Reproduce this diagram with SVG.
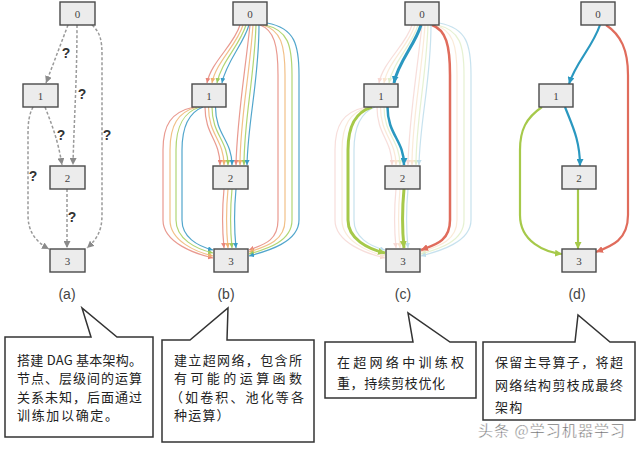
<svg xmlns="http://www.w3.org/2000/svg" width="640" height="450" viewBox="0 0 640 450">
<style>
.node rect{fill:#ececec;stroke:#4a4a4a;stroke-width:1.4}
.node text{font-family:"Liberation Serif",serif;font-size:11px;fill:#444;text-anchor:middle}
.dash{fill:none;stroke:#9a9a9a;stroke-width:1.5;stroke-dasharray:3 2;marker-end:url(#mA)}
.q{font-family:"Liberation Sans",sans-serif;font-size:14px;font-weight:bold;fill:#333;text-anchor:middle}
.e{fill:none;stroke-width:1.2}
.r{stroke:#e99a90;marker-end:url(#mR)}
.o{stroke:#f2c088;marker-end:url(#mO)}
.g{stroke:#b2d674;marker-end:url(#mG)}
.b{stroke:#52a6cc;marker-end:url(#mB)}
.cap{font-family:"Liberation Sans",sans-serif;font-size:14px;fill:#444;text-anchor:middle}
.call{fill:#fff;stroke:#333;stroke-width:1.5;stroke-linejoin:miter}
.t{font-family:"Noto Sans CJK SC",sans-serif;font-size:13px;fill:#222}
</style>
<defs>
<marker id="mA" viewBox="0 0 6 6" refX="6" refY="3" markerWidth="7" markerHeight="7" markerUnits="userSpaceOnUse" orient="auto"><path d="M0,0L6,3L0,6z" fill="#8a8a8a"/></marker>
<marker id="mR" viewBox="0 0 6 6" refX="6" refY="3" markerWidth="5" markerHeight="5" markerUnits="userSpaceOnUse" orient="auto"><path d="M0,0L6,3L0,6z" fill="#e8877a"/></marker>
<marker id="mO" viewBox="0 0 6 6" refX="6" refY="3" markerWidth="5" markerHeight="5" markerUnits="userSpaceOnUse" orient="auto"><path d="M0,0L6,3L0,6z" fill="#f0b070"/></marker>
<marker id="mG" viewBox="0 0 6 6" refX="6" refY="3" markerWidth="5" markerHeight="5" markerUnits="userSpaceOnUse" orient="auto"><path d="M0,0L6,3L0,6z" fill="#a0cc60"/></marker>
<marker id="mB" viewBox="0 0 6 6" refX="6" refY="3" markerWidth="5" markerHeight="5" markerUnits="userSpaceOnUse" orient="auto"><path d="M0,0L6,3L0,6z" fill="#3a9cc6"/></marker>
<marker id="mRb" viewBox="0 0 6 6" refX="6" refY="3" markerWidth="7" markerHeight="7" markerUnits="userSpaceOnUse" orient="auto"><path d="M0,0L6,3L0,6z" fill="#e06c5c"/></marker>
<marker id="mGb" viewBox="0 0 6 6" refX="6" refY="3" markerWidth="7" markerHeight="7" markerUnits="userSpaceOnUse" orient="auto"><path d="M0,0L6,3L0,6z" fill="#a6c94a"/></marker>
<marker id="mBb" viewBox="0 0 6 6" refX="6" refY="3" markerWidth="7" markerHeight="7" markerUnits="userSpaceOnUse" orient="auto"><path d="M0,0L6,3L0,6z" fill="#2a98c0"/></marker>
<g id="bEdges">
<path class="e r" d="M240,25 C234,45 211,62 207,83"/>
<path class="e o" d="M243,25 C237,45 216,62 212,83"/>
<path class="e g" d="M246,25 C240,45 221,62 217,83"/>
<path class="e b" d="M249,25 C243,45 226,62 222,83"/>
<path class="e r" d="M250,25 C244,80 237,120 236,165"/>
<path class="e o" d="M253,25 C249,80 240,120 240,165"/>
<path class="e g" d="M256,25 C254,80 244,120 244,165"/>
<path class="e b" d="M259,25 C259,80 248,120 247,165"/>
<path class="e r" d="M260,25 C274,30 278,45 278,75 L278,220 C278,242 262,245 249,250"/>
<path class="e o" d="M262.5,25 C281,30 285,45 285,75 L285,220 C285,242 264,247 249,252"/>
<path class="e g" d="M265,25 C288,30 292,45 292,75 L292,220 C292,242 266,249 249,254"/>
<path class="e b" d="M267,23 C295,28 299,45 299,75 L299,220 C299,242 268,251 249,256"/>
<path class="e r" d="M194,107 C171,112 163,125 163,150 L163,220 C163,243 196,254 213,258"/>
<path class="e o" d="M197,107 C178,112 170,125 170,150 L170,220 C170,241 196,252 213,256"/>
<path class="e g" d="M200,107 C184,112 176,125 176,150 L176,220 C176,239 196,249 213,253"/>
<path class="e b" d="M203,107 C190,112 182,125 182,150 L182,220 C182,237 197,246 213,250"/>
<path class="e r" d="M205,107 C205,135 220,140 220,165"/>
<path class="e o" d="M208.5,107 C208.5,135 224,140 224,165"/>
<path class="e g" d="M212,107 C212,135 228,140 228,165"/>
<path class="e b" d="M215.5,107 C215.5,135 232,140 232,165"/>
<path class="e r" d="M224,189 C222,210 222,228 224,248"/>
<path class="e o" d="M228,189 C226,210 226,228 228,248"/>
<path class="e g" d="M232,189 C230,210 230,228 232,248"/>
<path class="e b" d="M236,189 C234,210 234,228 236,248"/>
</g>
</defs>

<g id="connectors">
<g id="a-edges">
<path class="dash" d="M68,25 L46,83"/>
<path class="dash" d="M77,25 C77,80 74,120 73,165"/>
<path class="dash" d="M92,25 C100,32 102,40 102,55 L102,215 C102,232 96,240 87,248"/>
<path class="dash" d="M45,107 C52,125 58,140 62,165"/>
<path class="dash" d="M33,107 C29,115 28,122 28,135 L28,215 C28,232 36,242 49,249"/>
<path class="dash" d="M67,189 L67,248"/>
</g>
<g id="b-edges"><use href="#bEdges"/></g>
<g id="c-edges" transform="translate(172,0)">
<g opacity="0.32"><use href="#bEdges"/></g>
<path fill="none" stroke="#2a98c0" stroke-width="3" marker-end="url(#mBb)" d="M249,25 C243,45 226,62 222,83"/>
<path fill="none" stroke="#2a98c0" stroke-width="2.5" marker-end="url(#mBb)" d="M215.5,107 C215.5,135 232,140 232,165"/>
<path fill="none" stroke="#a6c94a" stroke-width="3" marker-end="url(#mGb)" d="M200,107 C184,112 176,125 176,150 L176,220 C176,239 196,249 213,253"/>
<path fill="none" stroke="#a6c94a" stroke-width="3" marker-end="url(#mGb)" d="M232,189 C230,210 230,228 232,248"/>
<path fill="none" stroke="#e06c5c" stroke-width="2.5" marker-end="url(#mRb)" d="M260,25 C274,30 278,45 278,75 L278,220 C278,242 262,245 249,250"/>
</g>
<g id="d-edges" fill="none" stroke-width="2.2">
<path stroke="#2a98c0" marker-end="url(#mBb)" d="M600,25 C592,48 576,62 569,84"/>
<path stroke="#2a98c0" marker-end="url(#mBb)" d="M565,107 C572,125 580,140 580,166"/>
<path stroke="#a6c94a" marker-end="url(#mGb)" d="M542,107 C526,118 520,130 520,150 L520,215 C520,242 545,252 562,254"/>
<path stroke="#a6c94a" marker-end="url(#mGb)" d="M578,189 L578,249"/>
<path stroke="#e06c5c" marker-end="url(#mRb)" d="M606,25 C621,35 628,50 628,75 L628,215 C628,240 612,246 596,252"/>
</g>
</g>

<g id="a-labels">
<text class="q" x="66" y="58">?</text>
<text class="q" x="82" y="99">?</text>
<text class="q" x="107" y="140">?</text>
<text class="q" x="61" y="140">?</text>
<text class="q" x="33" y="181">?</text>
<text class="q" x="72" y="222">?</text>
</g>

<g id="a-n0" class="node"><rect x="60" y="2" width="35" height="23"/><text x="77.5" y="17.5">0</text></g>
<g id="a-n1" class="node"><rect x="23" y="84" width="35" height="23"/><text x="40.5" y="99.5">1</text></g>
<g id="a-n2" class="node"><rect x="50" y="166" width="35" height="23"/><text x="67.5" y="181.5">2</text></g>
<g id="a-n3" class="node"><rect x="50" y="249" width="35" height="23"/><text x="67.5" y="264.5">3</text></g>

<g id="b-n0" class="node"><rect x="233" y="2" width="34" height="23"/><text x="250" y="17.5">0</text></g>
<g id="b-n1" class="node"><rect x="192" y="84" width="34" height="23"/><text x="209" y="99.5">1</text></g>
<g id="b-n2" class="node"><rect x="213" y="166" width="35" height="23"/><text x="230.5" y="181.5">2</text></g>
<g id="b-n3" class="node"><rect x="214" y="249" width="34" height="23"/><text x="231" y="264.5">3</text></g>

<g id="c-n0" class="node"><rect x="405" y="2" width="34" height="23"/><text x="422" y="17.5">0</text></g>
<g id="c-n1" class="node"><rect x="364" y="84" width="34" height="23"/><text x="381" y="99.5">1</text></g>
<g id="c-n2" class="node"><rect x="385" y="166" width="35" height="23"/><text x="402.5" y="181.5">2</text></g>
<g id="c-n3" class="node"><rect x="386" y="249" width="34" height="23"/><text x="403" y="264.5">3</text></g>

<g id="d-n0" class="node"><rect x="581" y="2" width="34" height="23"/><text x="598" y="17.5">0</text></g>
<g id="d-n1" class="node"><rect x="539" y="84" width="34" height="23"/><text x="556" y="99.5">1</text></g>
<g id="d-n2" class="node"><rect x="562" y="166" width="34" height="23"/><text x="579" y="181.5">2</text></g>
<g id="d-n3" class="node"><rect x="562" y="249" width="34" height="23"/><text x="579" y="264.5">3</text></g>

<text class="cap" x="67" y="299">(a)</text>
<text class="cap" x="226" y="299">(b)</text>
<text class="cap" x="403" y="299">(c)</text>
<text class="cap" x="577" y="299">(d)</text>

<g id="callout-a">
<path class="call" d="M5,337 L91,337 L82,308 L117,337 L153,337 L153,437 L5,437 Z"/>
<text class="t" x="17" y="365" textLength="125" lengthAdjust="spacing">搭建 DAG 基本架构。</text>
<text class="t" x="17" y="383" textLength="125" lengthAdjust="spacing">节点、层级间的运算</text>
<text class="t" x="17" y="402" textLength="125" lengthAdjust="spacing">关系未知，后面通过</text>
<text class="t" x="17" y="420" textLength="101" lengthAdjust="spacing">训练加以确定。</text>
</g>
<g id="callout-b">
<path class="call" d="M162,340 L190,340 L228,308 L227,340 L314,340 L314,442 L162,442 Z"/>
<text class="t" x="174" y="365" textLength="128" lengthAdjust="spacing">建立超网络，包含所</text>
<text class="t" x="174" y="383" textLength="128" lengthAdjust="spacing">有可能的运算函数</text>
<text class="t" x="170" y="402" textLength="134" lengthAdjust="spacing">（如卷积、池化等各</text>
<text class="t" x="174" y="420" letter-spacing="1.2">种运算）</text>
</g>
<g id="callout-c">
<path class="call" d="M325,342 L413,342 L408,313 L450,342 L476,342 L476,398 L325,398 Z"/>
<text class="t" x="337" y="367" textLength="127" lengthAdjust="spacing">在超网络中训练权</text>
<text class="t" x="337" y="388" textLength="108" lengthAdjust="spacing">重，持续剪枝优化</text>
</g>
<g id="callout-d">
<path class="call" d="M483,342 L575,342 L578,315 L610,342 L635,342 L635,420 L483,420 Z"/>
<text class="t" x="495" y="367" textLength="128" lengthAdjust="spacing">保留主导算子，将超</text>
<text class="t" x="495" y="390" textLength="128" lengthAdjust="spacing">网络结构剪枝成最终</text>
<text class="t" x="495" y="412" letter-spacing="1.2">架构</text>
</g>
<text x="478" y="436" font-family="Noto Sans CJK SC, sans-serif" font-size="15" fill="#666" stroke="#fff" stroke-width="0.4" textLength="147" lengthAdjust="spacing">头条 @学习机器学习</text>
</svg>
